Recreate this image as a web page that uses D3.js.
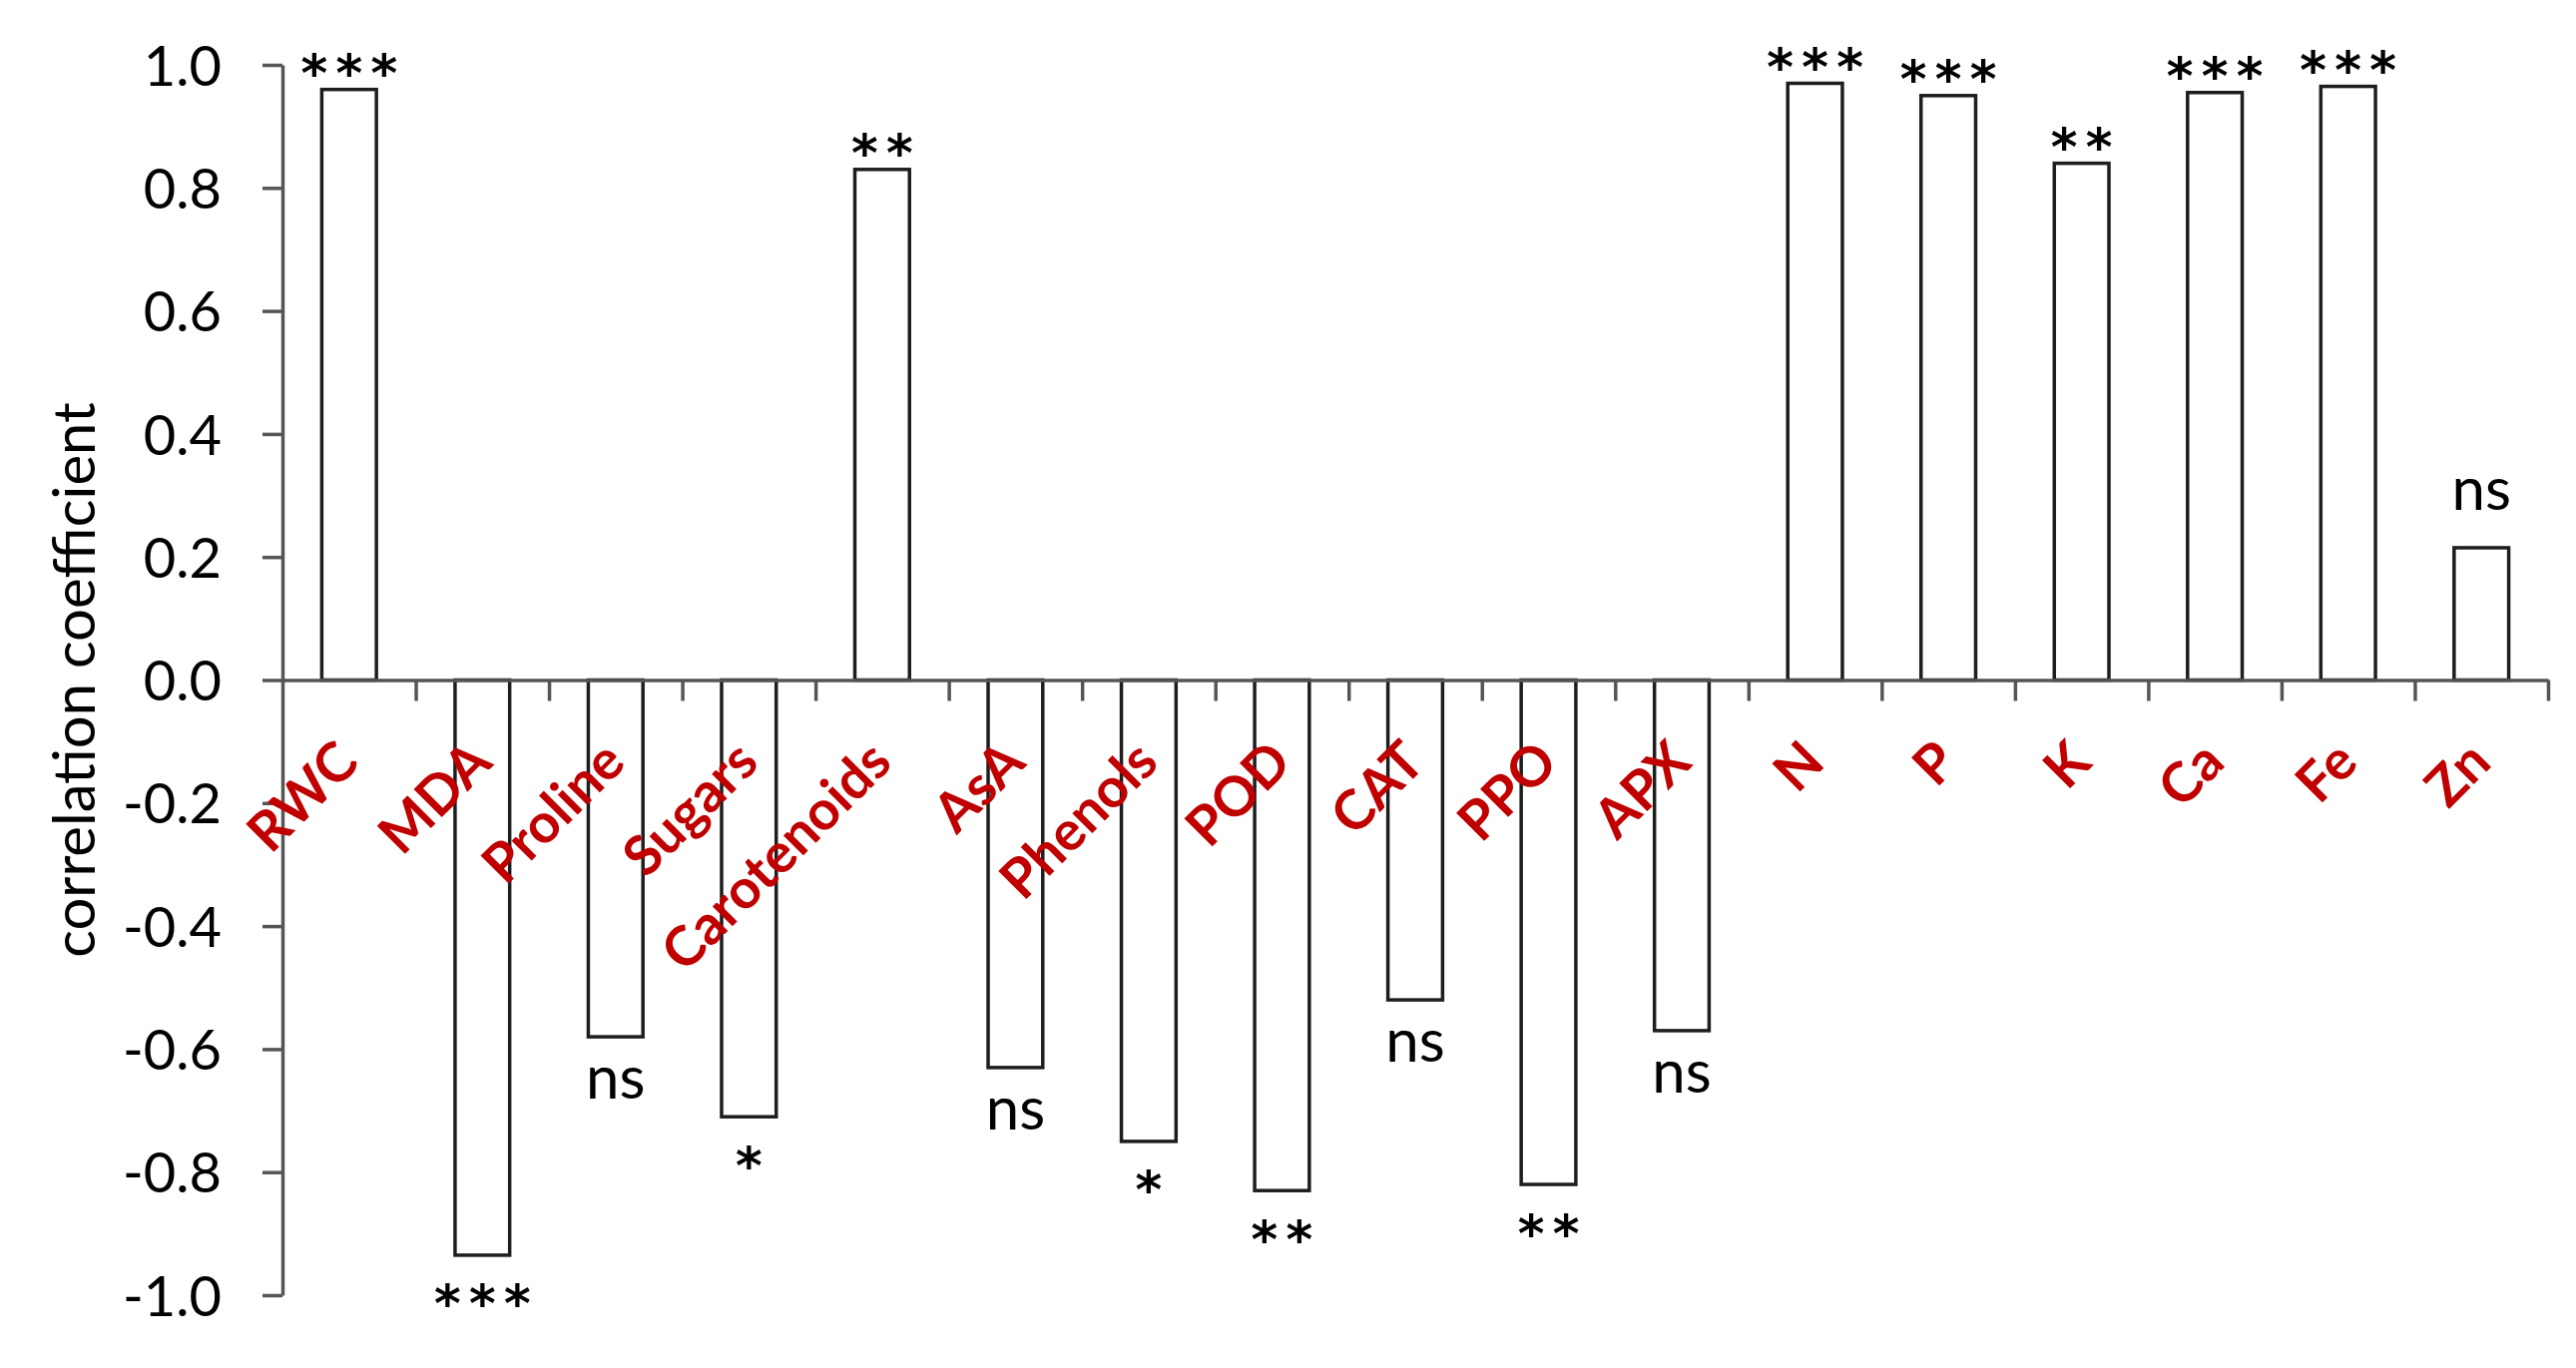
<!DOCTYPE html>
<html>
<head>
<meta charset="utf-8">
<script src="https://cdn.jsdelivr.net/npm/d3@7"></script>
<style>
  html, body { margin: 0; padding: 0; background: #ffffff; }
  svg { display: block; }
</style>
</head>
<body>
<svg id="chart" width="2581" height="1371"></svg>
<script>
// ---------------- data ----------------
const categories = ["RWC", "MDA", "Proline", "Sugars", "Carotenoids", "AsA", "Phenols", "POD", "CAT", "PPO", "APX", "N", "P", "K", "Ca", "Fe", "Zn"];
const correlation = [0.96, -0.935, -0.58, -0.71, 0.83, -0.63, -0.75, -0.83, -0.52, -0.82, -0.57, 0.97, 0.95, 0.84, 0.955, 0.965, 0.215];
const significance = ["***", "***", "ns", "*", "**", "ns", "*", "**", "ns", "**", "ns", "***", "***", "**", "***", "***", "ns"];
const yTickValues = [1.0, 0.8, 0.6, 0.4, 0.2, 0.0, -0.2, -0.4, -0.6, -0.8, -1.0];
const yAxisTitle = "correlation coefficient";

// ---------------- layout ----------------
const svg = d3.select("#chart");
const plot = { left: 283, right: 2553, top: 65, bottom: 1298 };
const axisColor = "#555555";
const labelRed = "#C00000";

const x = d3.scaleBand()
  .domain(categories)
  .range([plot.left, plot.right])
  .paddingInner(0.59)
  .paddingOuter(0.295);

const y = d3.scaleLinear().domain([-1, 1]).range([plot.bottom, plot.top]);

const data = categories.map((c, i) => ({ cat: c, value: correlation[i], sig: significance[i] }));

// ---------------- bars ----------------
svg.append("g").attr("class", "bars")
  .selectAll("rect")
  .data(data)
  .join("rect")
  .attr("x", d => x(d.cat))
  .attr("width", x.bandwidth())
  .attr("y", d => y(Math.max(0, d.value)))
  .attr("height", d => Math.abs(y(d.value) - y(0)))
  .attr("fill", "#ffffff")
  .attr("stroke", "#1e1e1e")
  .attr("stroke-width", 3.5);

// ---------------- x axis (category boundaries) ----------------
const xBoundary = d3.scaleLinear().domain([0, categories.length]).range(x.range());
const xAxisG = svg.append("g")
  .attr("transform", `translate(0,${y(0)})`)
  .call(d3.axisBottom(xBoundary)
    .tickValues(d3.range(1, categories.length + 1))
    .tickSize(21)
    .tickSizeOuter(0)
    .tickFormat(""));
xAxisG.selectAll("path, line").attr("stroke", axisColor).attr("stroke-width", 3.5);

// ---------------- y axis ----------------
const yAxisG = svg.append("g")
  .attr("transform", `translate(${plot.left},0)`)
  .call(d3.axisLeft(y)
    .tickValues(yTickValues)
    .tickSize(20)
    .tickSizeOuter(0)
    .tickPadding(41)
    .tickFormat(d => d.toFixed(1)));
yAxisG.selectAll("path, line").attr("stroke", axisColor).attr("stroke-width", 3.5);
yAxisG.selectAll("text")
  .attr("font-family", "Lato, 'Open Sans', sans-serif")
  .attr("font-size", 56)
  .attr("fill", "#000")
  .attr("dy", "0.36em");

// ---------------- category labels ----------------
svg.append("g").attr("class", "cat-labels")
  .selectAll("text")
  .data(data)
  .join("text")
  .attr("transform", d => `translate(${x(d.cat) + x.bandwidth() / 2 + 12},${y(0) + 85}) rotate(-45)`)
  .attr("text-anchor", "end")
  .attr("font-family", "Lato, 'Open Sans', sans-serif")
  .attr("font-weight", "bold")
  .attr("font-size", 55)
  .attr("fill", labelRed)
  .text(d => d.cat);

// ---------------- significance labels ----------------
const starFont = "'DejaVu Sans'";
const ctx = document.createElement("canvas").getContext("2d");
ctx.font = `bold 100px ${starFont}`;
const sm = ctx.measureText("*");
const inkH100 = (sm.actualBoundingBoxAscent + sm.actualBoundingBoxDescent) || 40;
const starFs = 100 * 24 / inkH100;
ctx.font = `bold ${starFs}px ${starFont}`;
const sm2 = ctx.measureText("*");
const starCenterAbove = (sm2.actualBoundingBoxAscent - sm2.actualBoundingBoxDescent) / 2;
const starAdvance = sm2.width;
const starSpacing = Math.max(0, 35 - starAdvance);

const sigG = svg.append("g").attr("class", "sig");
data.forEach(d => {
  const cx = x(d.cat) + x.bandwidth() / 2;
  const end = y(d.value);
  const isStar = d.sig.indexOf("*") >= 0;
  let baseline;
  if (isStar) {
    const center = d.value >= 0 ? end - 25 : end + 40;
    baseline = center + starCenterAbove;
  } else {
    baseline = d.value >= 0 ? end - 38 : end + 62;
  }
  const t = sigG.append("text")
    .attr("x", isStar ? cx + starSpacing / 2 : cx)
    .attr("y", baseline)
    .attr("text-anchor", "middle")
    .attr("fill", "#000")
    .text(d.sig);
  if (isStar) {
    t.attr("font-family", starFont).attr("font-weight", "bold")
     .attr("font-size", starFs).attr("letter-spacing", starSpacing);
  } else {
    t.attr("font-family", "Lato, 'Open Sans', sans-serif").attr("font-size", 60);
  }
});

// ---------------- y axis title ----------------
svg.append("text")
  .attr("transform", `translate(95,${(y(1) + y(-1)) / 2}) rotate(-90)`)
  .attr("text-anchor", "middle")
  .attr("font-family", "Lato, 'Open Sans', sans-serif")
  .attr("font-size", 58)
  .attr("fill", "#000")
  .text(yAxisTitle);
</script>
</body>
</html>
